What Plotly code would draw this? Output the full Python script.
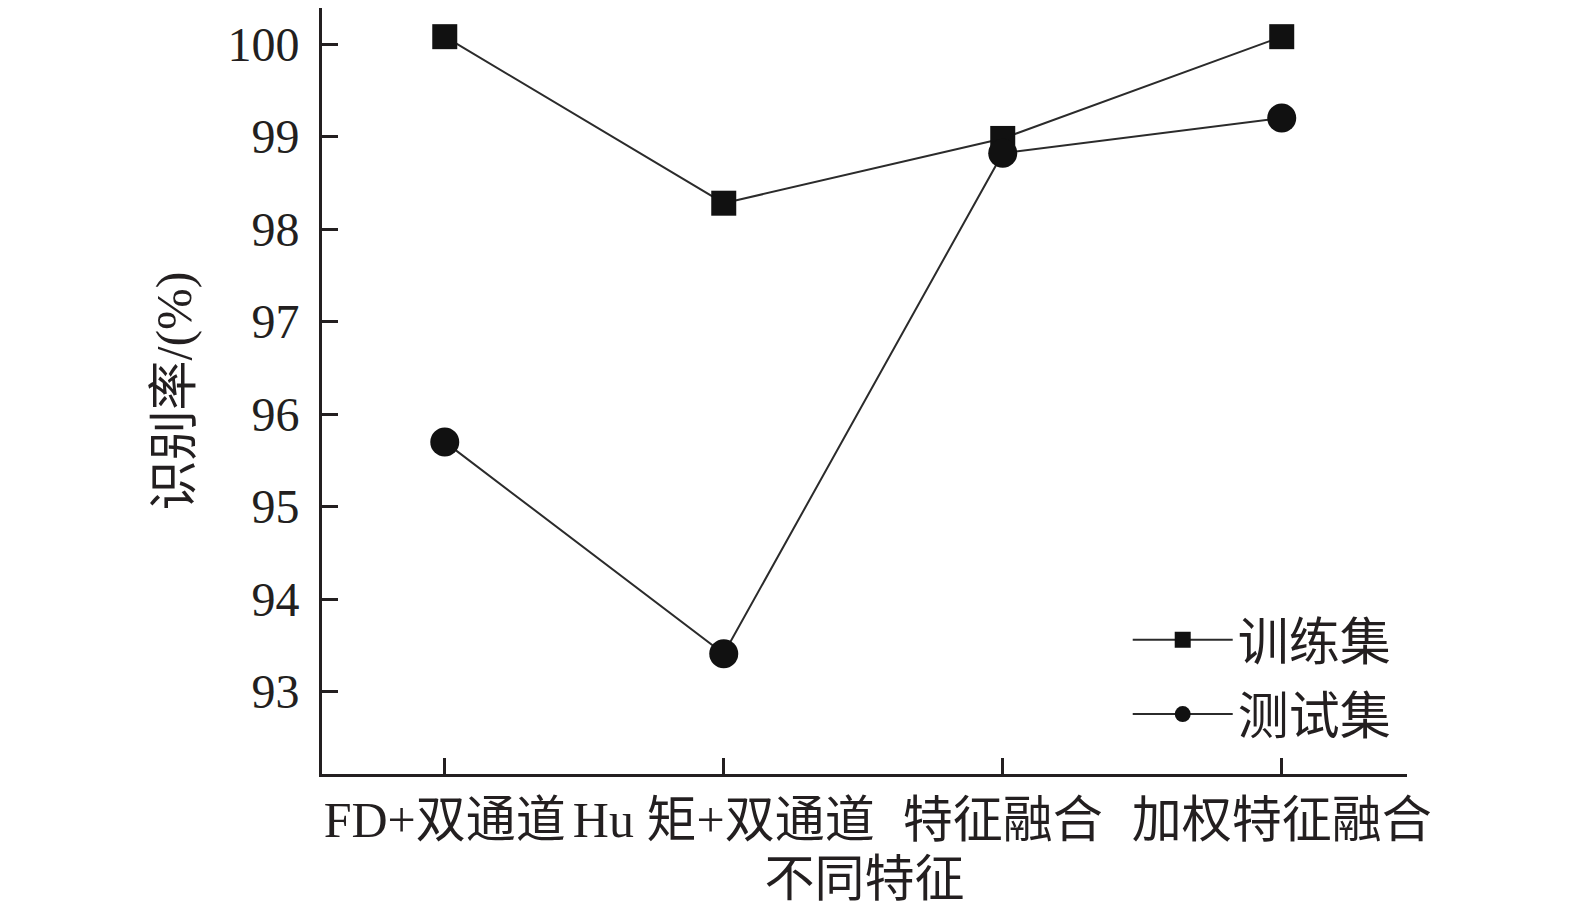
#!/usr/bin/env python3
# -*- coding: utf-8 -*-
"""Recognition rate of train / test sets for different feature combos."""

import plotly.graph_objects as go

CATEGORIES = ["FD+双通道", "Hu 矩+双通道", "特征融合", "加权特征融合"]
TRAIN_RATE = [100.08, 98.28, 98.98, 100.08]
TEST_RATE = [95.70, 93.41, 98.82, 99.20]
Y_TICKS = [93, 94, 95, 96, 97, 98, 99, 100]

FONT = "Liberation Serif, Times New Roman, Noto Sans CJK SC, serif"
INK = "#231f20"
LINE = "#2b2b2b"


def build_figure() -> go.Figure:
    fig = go.Figure()
    fig.add_trace(
        go.Scatter(
            name="训练集",
            x=CATEGORIES,
            y=TRAIN_RATE,
            mode="lines+markers",
            legendgroup="train",
            line=dict(color=LINE, width=2),
            marker=dict(symbol="square", size=25, color="#111111"),
        )
    )
    fig.add_trace(
        go.Scatter(
            name="测试集",
            x=CATEGORIES,
            y=TEST_RATE,
            mode="lines+markers",
            legendgroup="test",
            line=dict(color=LINE, width=2),
            marker=dict(symbol="circle", size=29, color="#111111"),
        )
    )

    fig.update_layout(
        width=1575,
        height=911,
        paper_bgcolor="white",
        plot_bgcolor="white",
        font=dict(family=FONT, size=46, color=INK),
        margin=dict(l=314, r=176, t=0, b=145, autoexpand=False),
        showlegend=True,
        legend=dict(
            x=0.7426,
            y=0.227,
            xanchor="left",
            yanchor="top",
            bgcolor="rgba(0,0,0,0)",
            font=dict(size=51),
            itemwidth=100,
            tracegroupgap=5,
        ),
    )
    fig.update_xaxes(
        type="category",
        range=[-0.44, 3.449],
        automargin=False,
        tickangle=0,
        showline=True,
        linecolor=INK,
        linewidth=3,
        ticks="inside",
        ticklen=16,
        tickwidth=3,
        tickcolor=INK,
        showgrid=False,
        zeroline=False,
        tickfont=dict(size=50),
        ticklabelstandoff=0,
        title=dict(text="不同特征", font=dict(size=50), standoff=14),
    )
    fig.update_yaxes(
        range=[92.11, 100.39],
        automargin=False,
        tickmode="array",
        tickvals=Y_TICKS,
        ticktext=[str(v) for v in Y_TICKS],
        showline=True,
        linecolor=INK,
        linewidth=3,
        ticks="inside",
        ticklen=16,
        tickwidth=3,
        tickcolor=INK,
        showgrid=False,
        zeroline=False,
        tickfont=dict(size=48),
        ticklabelstandoff=10,
        title=dict(text="识别率/(%)", font=dict(size=50), standoff=20),
    )
    return fig


def main() -> None:
    fig = build_figure()
    fig.write_html("out.html")


if __name__ == "__main__":
    main()
